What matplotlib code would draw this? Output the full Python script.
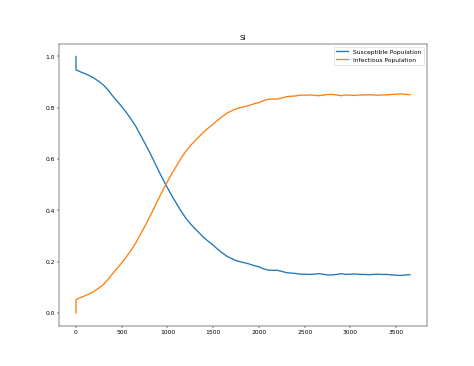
import numpy as np
import matplotlib
matplotlib.use("Agg")
import matplotlib.pyplot as plt

# days of simulation
days = [0, 1, 50, 100, 150, 200, 250, 300, 350, 400, 450, 500, 550, 600, 650,
        700, 750, 800, 850, 900, 950, 1000, 1050, 1100, 1150, 1200, 1250, 1300,
        1350, 1400, 1450, 1500, 1550, 1600, 1650, 1700, 1750, 1800, 1850, 1900,
        1950, 2000, 2050, 2100, 2150, 2200, 2250, 2300, 2350, 2400, 2450, 2500,
        2550, 2600, 2650, 2700, 2750, 2800, 2850, 2900, 2950, 3000, 3050, 3100,
        3150, 3200, 3250, 3300, 3350, 3400, 3450, 3500, 3550, 3600, 3650]

susceptible = [1.0, 0.948, 0.940, 0.933, 0.925, 0.915, 0.903, 0.889, 0.870, 0.847,
               0.826, 0.805, 0.782, 0.757, 0.730, 0.697, 0.664, 0.630, 0.594, 0.557,
               0.521, 0.488, 0.456, 0.426, 0.396, 0.370, 0.348, 0.329, 0.311, 0.293,
               0.278, 0.264, 0.248, 0.234, 0.221, 0.212, 0.204, 0.199, 0.195, 0.190,
               0.184, 0.180, 0.172, 0.167, 0.166, 0.166, 0.162, 0.157, 0.155, 0.154,
               0.151, 0.151, 0.150, 0.151, 0.153, 0.151, 0.148, 0.148, 0.150, 0.153,
               0.150, 0.151, 0.152, 0.150, 0.150, 0.149, 0.150, 0.151, 0.150, 0.150,
               0.148, 0.147, 0.146, 0.148, 0.149]

infectious = [0.0, 0.052, 0.060, 0.067, 0.075, 0.085, 0.097, 0.111, 0.130, 0.153,
              0.174, 0.195, 0.218, 0.243, 0.270, 0.303, 0.336, 0.370, 0.406, 0.443,
              0.479, 0.512, 0.544, 0.574, 0.604, 0.630, 0.652, 0.671, 0.689, 0.707,
              0.722, 0.736, 0.752, 0.766, 0.779, 0.788, 0.796, 0.801, 0.805, 0.810,
              0.816, 0.820, 0.828, 0.833, 0.834, 0.834, 0.838, 0.843, 0.845, 0.846,
              0.849, 0.849, 0.850, 0.849, 0.847, 0.849, 0.852, 0.852, 0.850, 0.847,
              0.850, 0.849, 0.848, 0.850, 0.850, 0.851, 0.850, 0.849, 0.850, 0.850,
              0.852, 0.853, 0.854, 0.852, 0.851]

fig = plt.figure(figsize=(11, 8.5), dpi=474 / 11)
plt.plot(days, susceptible, label="Susceptible Population", linewidth=2.2)
plt.plot(days, infectious, label="Infectious Population", linewidth=2.2)
plt.title("SI")
plt.legend()
plt.savefig("out.png", dpi=474 / 11)
